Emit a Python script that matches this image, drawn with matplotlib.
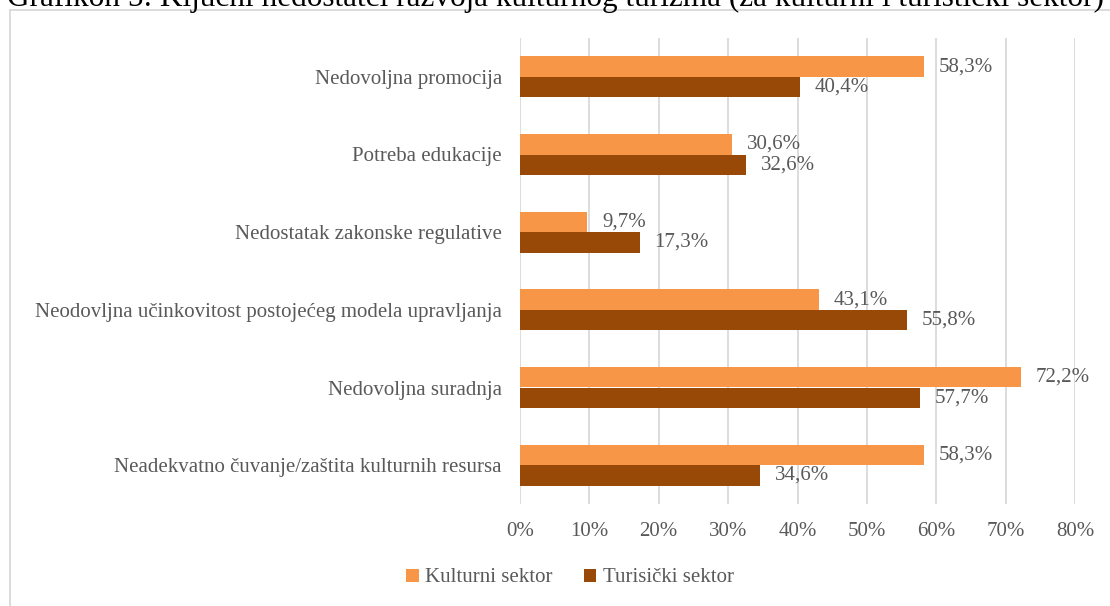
import matplotlib
matplotlib.use("Agg")
import matplotlib.pyplot as plt
from matplotlib.patches import Rectangle
import numpy as np

categories = [
    "Nedovoljna promocija",
    "Potreba edukacije",
    "Nedostatak zakonske regulative",
    "Neodovljna učinkovitost postojećeg modela upravljanja",
    "Nedovoljna suradnja",
    "Neadekvatno čuvanje/zaštita kulturnih resursa",
]
kulturni = [58.3, 30.6, 9.7, 43.1, 72.2, 58.3]
turisticki = [40.4, 32.6, 17.3, 55.8, 57.7, 34.6]
series_names = ["Kulturni sektor", "Turisički sektor"]
xticks = [0, 10, 20, 30, 40, 50, 60, 70, 80]
title = "Grafikon 5: Ključni nedostatci razvoja kulturnog turizma (za kulturni i turistički sektor)"

ORANGE = "#F79646"
BROWN = "#984807"
GRAY = "#595959"
GRID = "#D9D9D9"
FONT = "Liberation Serif"
FS = 15

W, H = 1110, 606
fig = plt.figure(figsize=(W / 100, H / 100), dpi=100)

# chart frame (partially cropped)
fig.patches.append(Rectangle((10 / W, -0.1), 1.2, 1 - 10 / H + 0.1, transform=fig.transFigure,
                             fill=False, edgecolor=GRID, linewidth=1.3, zorder=0))

# cropped title at top
fig.text(7 / W, 1 - 6 / H, title, fontsize=22.5, family=FONT, color="black",
         ha="left", va="baseline")

ax = fig.add_axes([520 / W, 1 - 504 / H, 555 / W, 466 / H])

y = np.arange(len(categories))
h = 0.262
b1 = ax.barh(y - h / 2, kulturni, height=h, color=ORANGE, label=series_names[0], zorder=3)
b2 = ax.barh(y + h / 2, turisticki, height=h, color=BROWN, label=series_names[1], zorder=3)

for bars, vals in ((b1, kulturni), (b2, turisticki)):
    for bar, v in zip(bars, vals):
        ax.annotate(f"{v:.1f}%".replace(".", ","),
                    xy=(bar.get_width(), bar.get_y() + bar.get_height() / 2),
                    xytext=(10.5, 0), textcoords="offset points",
                    ha="left", va="center", fontsize=FS, family=FONT, color=GRAY)

ax.set_xlim(0, 80)
ax.set_ylim(len(categories) - 0.5, -0.5)
ax.set_xticks(xticks)
ax.set_xticklabels([f"{t}%" for t in xticks], fontsize=FS, family=FONT, color=GRAY)
ax.set_yticks(y)
ax.set_yticklabels(categories, fontsize=FS, family=FONT, color=GRAY)
ax.tick_params(axis="both", length=0)
ax.tick_params(axis="y", pad=13)
ax.tick_params(axis="x", pad=13)
ax.grid(axis="x", color=GRID, linewidth=1.3, zorder=0)
for s in ax.spines.values():
    s.set_visible(False)

leg = fig.legend(handles=[b1, b2], labels=series_names, loc="center",
                 bbox_to_anchor=(570 / W, 1 - 578 / H), ncol=2, frameon=False,
                 prop={"family": FONT, "size": FS}, handlelength=0.6, handleheight=0.6,
                 handletextpad=0.3, columnspacing=1.5)
for t in leg.get_texts():
    t.set_color(GRAY)

fig.savefig("out.png", dpi=100)
